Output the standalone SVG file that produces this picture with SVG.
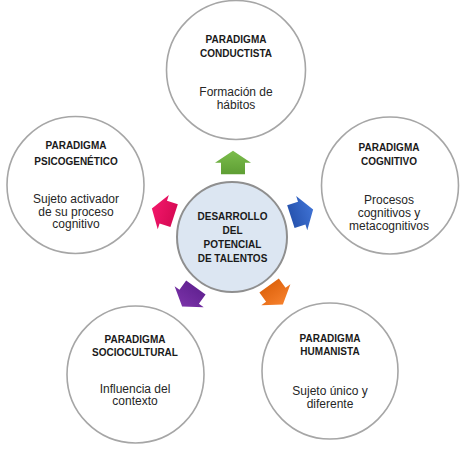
<svg xmlns="http://www.w3.org/2000/svg" xmlns:xlink="http://www.w3.org/1999/xlink" width="465" height="452" viewBox="0 0 465 452">
<style>
.outer{fill:#ffffff;stroke:#a6a6a6;stroke-width:1.6}
.core{fill:#dce6f2;stroke:#8f8f8f;stroke-width:2}
.h{font-family:"Liberation Sans",Arial,sans-serif;font-weight:bold;font-size:10px;fill:#1a1a1a;text-anchor:middle}
.b{font-family:"Liberation Sans",Arial,sans-serif;font-size:12px;fill:#262626;text-anchor:middle}
</style>
<defs>
<path id="arr" d="M0,-11.7 L18,0.3 L12,0.3 L12,11.7 L-12,11.7 L-12,0.3 L-18,0.3 Z"/>
<linearGradient id="gG" x1="0" y1="0" x2="0" y2="1"><stop offset="0" stop-color="#7cbd4c"/><stop offset="1" stop-color="#5e9e34"/></linearGradient>
<linearGradient id="gB" x1="0" y1="0" x2="0" y2="1"><stop offset="0" stop-color="#3f72d4"/><stop offset="1" stop-color="#2754b0"/></linearGradient>
<linearGradient id="gO" x1="0" y1="0" x2="0" y2="1"><stop offset="0" stop-color="#f6802c"/><stop offset="1" stop-color="#e0650f"/></linearGradient>
<linearGradient id="gP" x1="0" y1="0" x2="0" y2="1"><stop offset="0" stop-color="#7a32a8"/><stop offset="1" stop-color="#632393"/></linearGradient>
<linearGradient id="gK" x1="0" y1="0" x2="0" y2="1"><stop offset="0" stop-color="#f2176a"/><stop offset="1" stop-color="#d80b55"/></linearGradient>
</defs>

<g id="connectors">
<use xlink:href="#arr" href="#arr" fill="url(#gG)" transform="translate(233,162.5)"/>
<use xlink:href="#arr" href="#arr" fill="url(#gB)" transform="translate(302,213) rotate(72)"/>
<use xlink:href="#arr" href="#arr" fill="url(#gO)" transform="translate(276,295) rotate(144)"/>
<use xlink:href="#arr" href="#arr" fill="url(#gP)" transform="translate(189,297) rotate(216)"/>
<use xlink:href="#arr" href="#arr" fill="url(#gK)" transform="translate(163,212) rotate(288)"/>
</g>

<g id="node-center">
<circle class="core" cx="232" cy="237" r="55"/>
<text class="h" x="232.5" y="219.5">DESARROLLO</text>
<text class="h" x="232.5" y="233.5">DEL</text>
<text class="h" x="232.5" y="248">POTENCIAL</text>
<text class="h" x="232.5" y="261.5">DE TALENTOS</text>
</g>

<g id="node-conductista">
<circle class="outer" cx="236" cy="70" r="69.5"/>
<text class="h" x="236" y="43">PARADIGMA</text>
<text class="h" x="236" y="57">CONDUCTISTA</text>
<text class="b" x="236" y="96">Formación de</text>
<text class="b" x="236" y="109">hábitos</text>
</g>

<g id="node-cognitivo">
<circle class="outer" cx="390" cy="185.5" r="68.5"/>
<text class="h" x="389" y="150.5">PARADIGMA</text>
<text class="h" x="389" y="164.5">COGNITIVO</text>
<text class="b" x="389" y="204">Procesos</text>
<text class="b" x="389" y="217">cognitivos y</text>
<text class="b" x="389" y="230">metacognitivos</text>
</g>

<g id="node-humanista">
<circle class="outer" cx="330" cy="371" r="68"/>
<text class="h" x="330" y="342">PARADIGMA</text>
<text class="h" x="330" y="355">HUMANISTA</text>
<text class="b" x="330" y="395">Sujeto único y</text>
<text class="b" x="330" y="408">diferente</text>
</g>

<g id="node-sociocultural">
<circle class="outer" cx="135.5" cy="374.5" r="68.5"/>
<text class="h" x="135" y="343">PARADIGMA</text>
<text class="h" x="135" y="356">SOCIOCULTURAL</text>
<text class="b" x="135" y="392.5">Influencia del</text>
<text class="b" x="135" y="405">contexto</text>
</g>

<g id="node-psicogenetico">
<circle class="outer" cx="75.5" cy="185" r="68.5"/>
<text class="h" x="76" y="149">PARADIGMA</text>
<text class="h" x="76" y="164.5">PSICOGENÉTICO</text>
<text class="b" x="76" y="203">Sujeto activador</text>
<text class="b" x="76" y="215.5">de su proceso</text>
<text class="b" x="76" y="228">cognitivo</text>
</g>
</svg>
